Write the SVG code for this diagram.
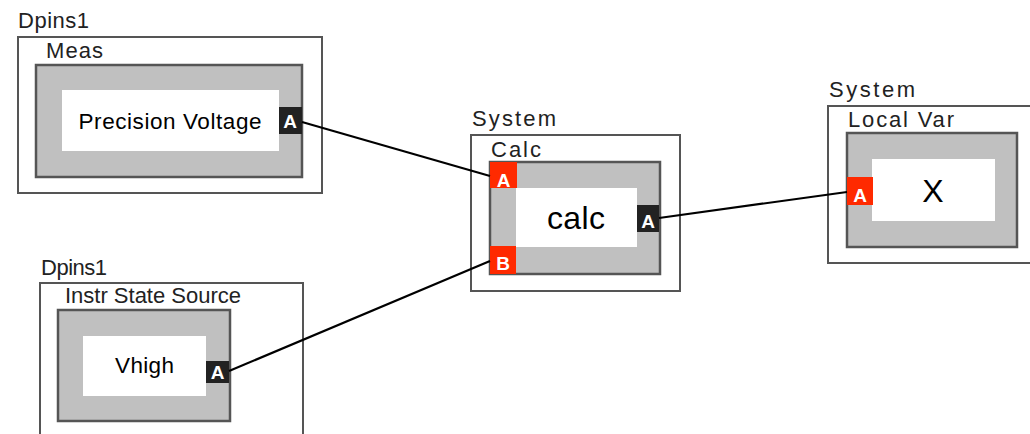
<svg xmlns="http://www.w3.org/2000/svg" width="1030" height="434" viewBox="0 0 1030 434">
<style>
.outer{fill:#fff;stroke:#555;stroke-width:2}
.inner{fill:#c0c0c0;stroke:#555;stroke-width:2.5}
.body{fill:#fff}
.lbl{font-family:"Liberation Sans",Arial,sans-serif;font-size:22px;fill:#222}
.name{font-family:"Liberation Sans",Arial,sans-serif;font-size:22.5px;fill:#000;text-anchor:middle}
.big{font-family:"Liberation Sans",Arial,sans-serif;font-size:32px;fill:#000;text-anchor:middle}
.pin{font-family:"Liberation Sans",Arial,sans-serif;font-size:19px;font-weight:bold;fill:#fff;text-anchor:middle}
.pr{fill:#ff2a00}
.pb{fill:#222}
.wire{stroke:#000;stroke-width:2.2;fill:none}
</style>
<rect width="1030" height="434" fill="#fff"/>
<g id="meas">
<text class="lbl" x="18" y="28" textLength="71">Dpins1</text>
<rect class="outer" x="18" y="37" width="304" height="156"/>
<text class="lbl" x="46" y="58" textLength="57">Meas</text>
<rect class="inner" x="36" y="65" width="266" height="112"/>
<rect class="body" x="62" y="90" width="217" height="61"/>
<text class="name" x="170" y="129" textLength="183">Precision Voltage</text>
<rect class="pb" x="279" y="107" width="23" height="27"/>
<text class="pin" x="290" y="128">A</text>
</g>
<g id="instr">
<text class="lbl" x="41" y="275" textLength="66">Dpins1</text>
<rect class="outer" x="40" y="283" width="263" height="160"/>
<text class="lbl" x="65" y="303" textLength="176">Instr State Source</text>
<rect class="inner" x="58" y="310" width="172" height="111"/>
<rect class="body" x="83" y="336" width="123" height="60"/>
<text class="name" x="144.5" y="373" textLength="59">Vhigh</text>
<rect class="pb" x="206" y="361" width="23" height="22"/>
<text class="pin" x="217.5" y="379">A</text>
</g>
<g id="calc">
<text class="lbl" x="472" y="126" textLength="84">System</text>
<rect class="outer" x="471" y="135" width="209" height="156"/>
<text class="lbl" x="491" y="157" textLength="50">Calc</text>
<rect class="inner" x="490" y="162" width="170" height="112"/>
<rect class="body" x="516" y="188" width="121" height="59"/>
<text class="big" x="576" y="229" textLength="58">calc</text>
<rect class="pr" x="490" y="162" width="27" height="26"/>
<text class="pin" x="503.5" y="187">A</text>
<rect class="pr" x="490" y="246" width="26" height="28"/>
<text class="pin" x="503" y="270">B</text>
<rect class="pb" x="637" y="205" width="22" height="27"/>
<text class="pin" x="648" y="228">A</text>
</g>
<g id="localvar">
<text class="lbl" x="829" y="97" textLength="86">System</text>
<rect class="outer" x="828" y="106" width="210" height="157"/>
<text class="lbl" x="848" y="127" textLength="106">Local Var</text>
<rect class="inner" x="847" y="133" width="170" height="114"/>
<rect class="body" x="872" y="159" width="123" height="62"/>
<text class="big" x="933" y="202">X</text>
<rect class="pr" x="847" y="177" width="26" height="28"/>
<text class="pin" x="860" y="202">A</text>
</g>
<g id="connectors">
<line class="wire" x1="302" y1="122" x2="490" y2="176"/>
<line class="wire" x1="229" y1="371" x2="490" y2="261"/>
<line class="wire" x1="659" y1="218" x2="847" y2="192"/>
</g>
</svg>
